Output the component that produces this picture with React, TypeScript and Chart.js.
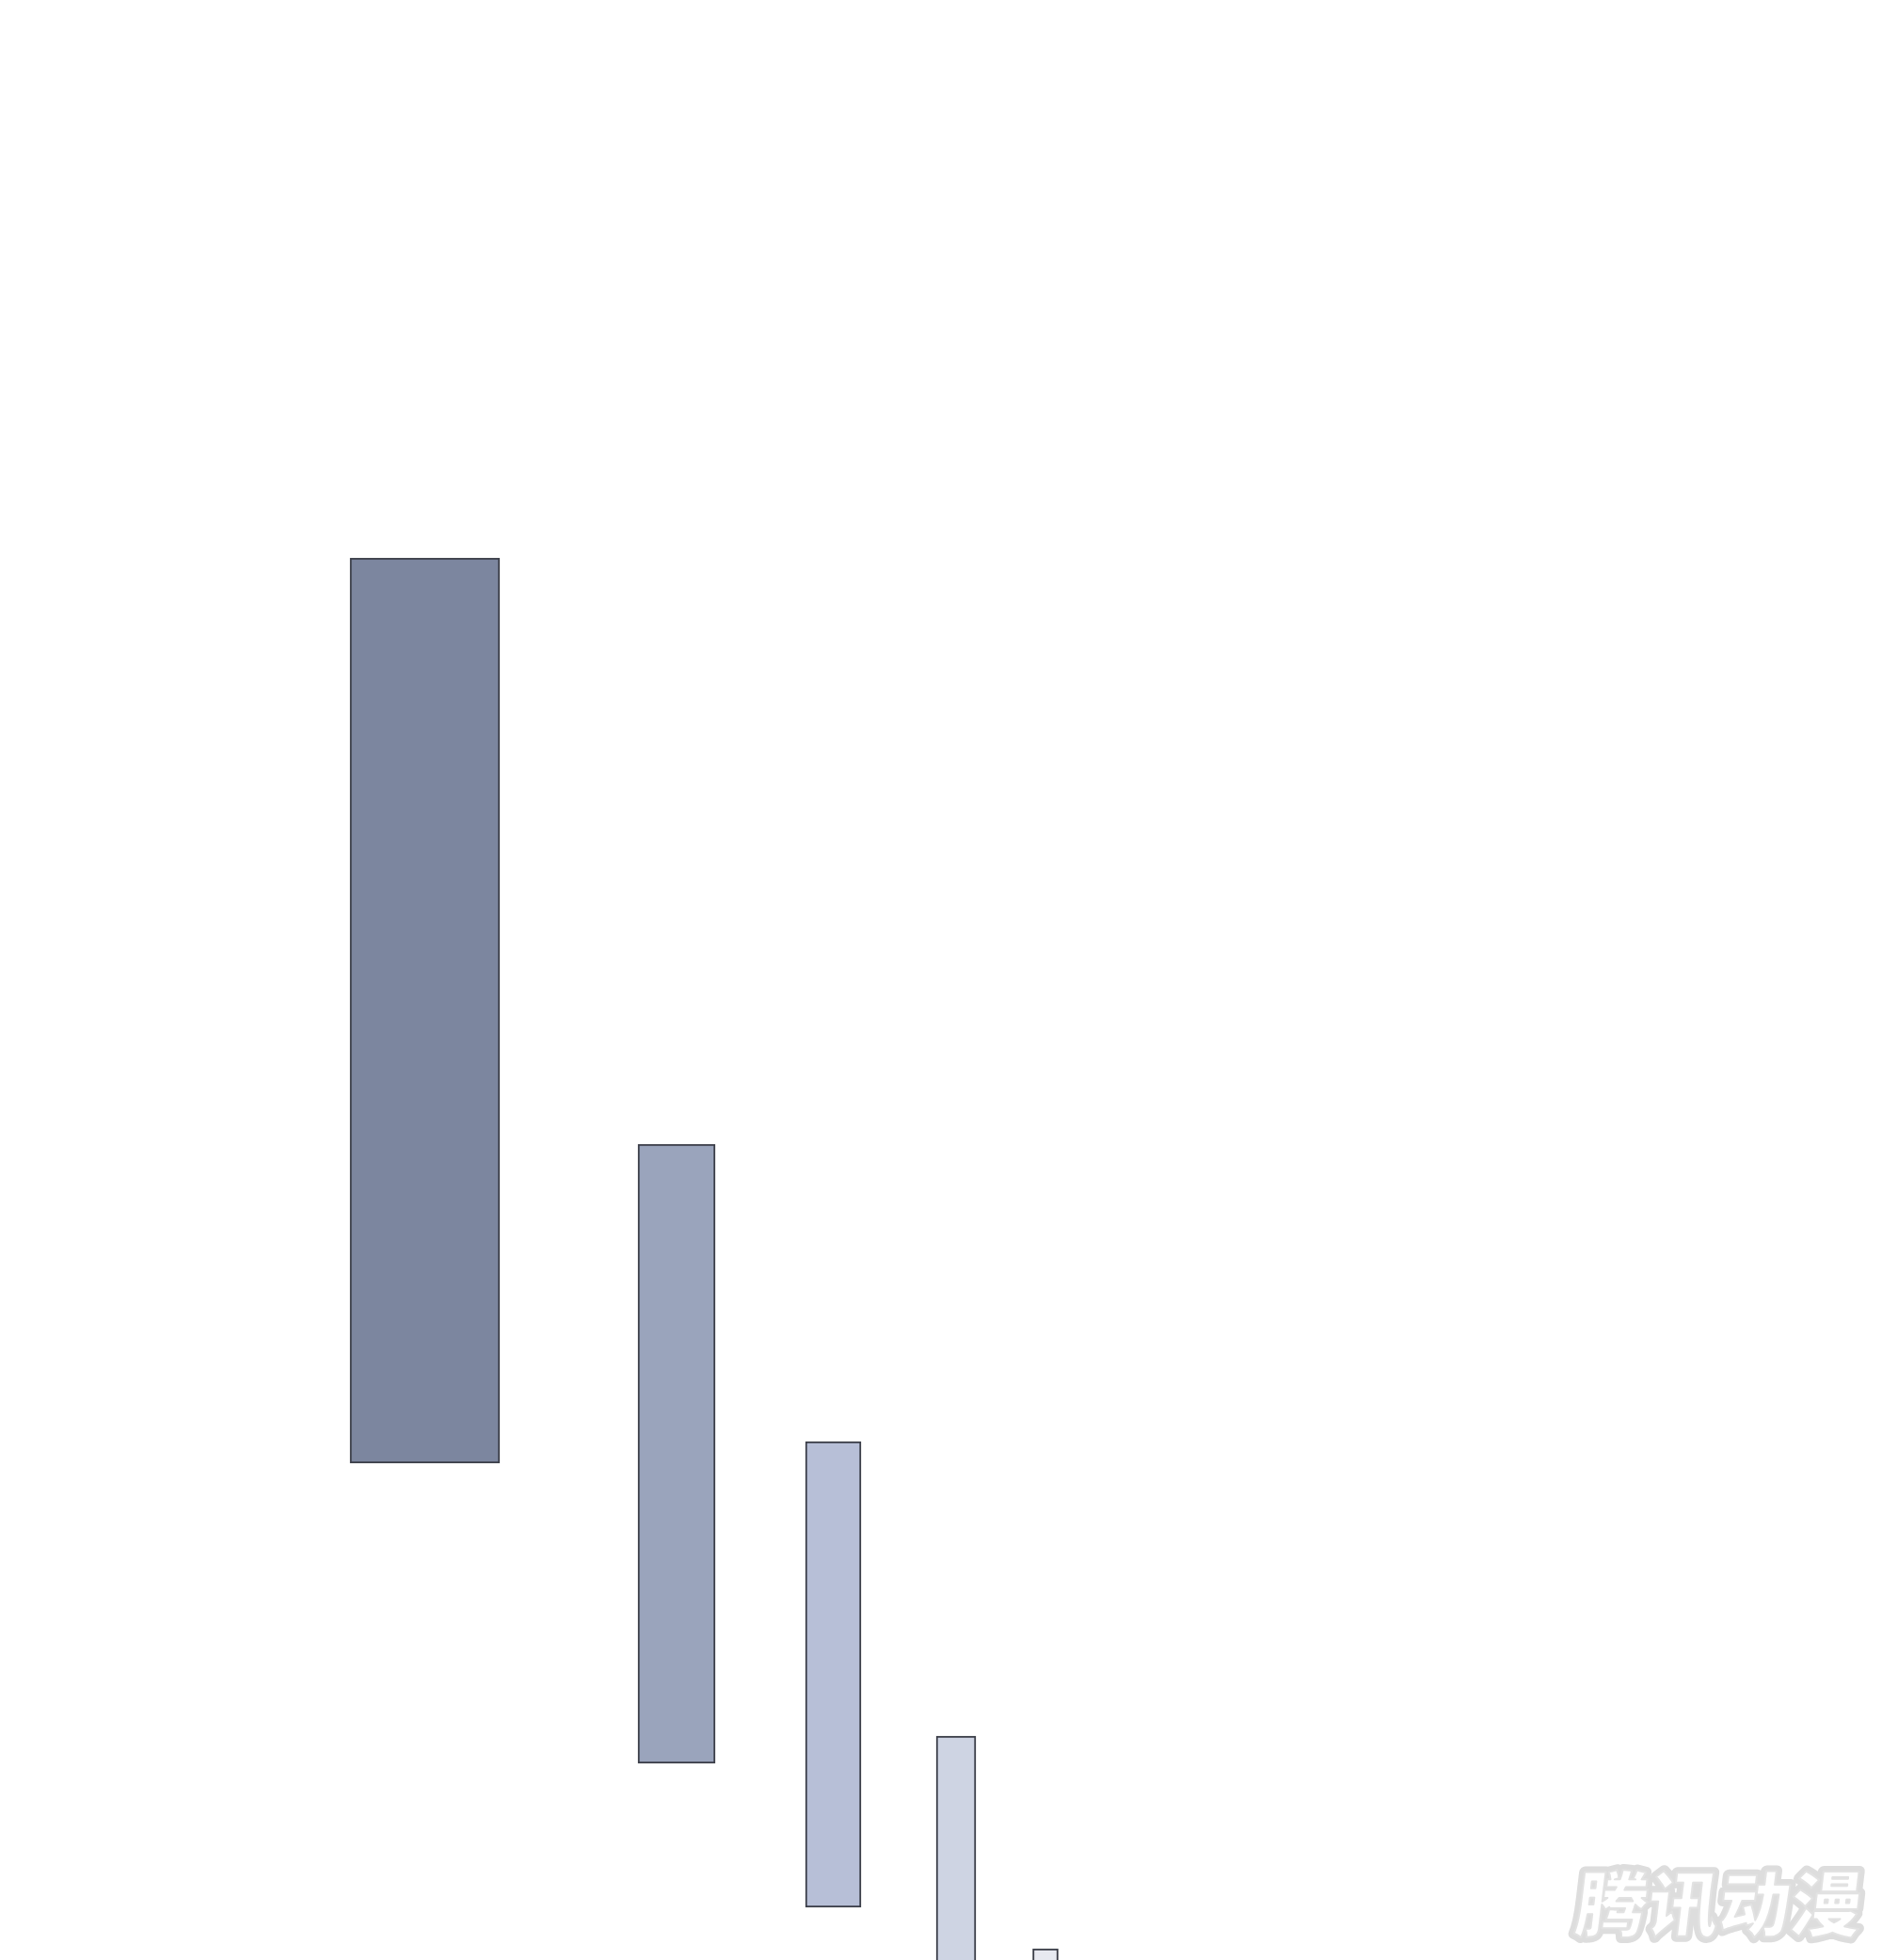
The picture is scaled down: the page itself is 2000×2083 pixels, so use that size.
import React, { useEffect, useRef } from "react";
import { Chart, registerables } from "chart.js";

Chart.register(...registerables);

// Bar data (chart units: x 0..2000 left->right, y 0..2083 top->bottom)
const barCenters = [451.5, 719, 885.5, 1016, 1111];
const barWidths = [159, 82, 59, 42, 27];
const barTops = [593, 1216, 1532, 1845, 2071];
const barBottoms = [1555, 1874, 2027, 2120, 2120];
const barColors = ["#7c869f", "#9aa4bc", "#b7bfd7", "#ced4e3", "#e7e9f0"];
const watermarkText = "腾讯动漫";

const W = 2000;
const H = 2083;

const watermarkPlugin = {
  id: "watermark",
  afterDraw(chart: any) {
    const ctx = chart.ctx as CanvasRenderingContext2D;
    ctx.save();
    ctx.font = '900 76px "Noto Sans CJK SC"';
    ctx.textBaseline = "alphabetic";
    ctx.translate(1672, 2052);
    ctx.transform(1, 0, -0.12, 1, 0, 0);
    ctx.lineJoin = "round";
    ctx.lineWidth = 12;
    ctx.strokeStyle = "#dddddd";
    ctx.strokeText(watermarkText, 0, 0);
    ctx.fillStyle = "#ffffff";
    ctx.fillText(watermarkText, 0, 0);
    ctx.lineWidth = 2;
    ctx.strokeStyle = "#e2e2e2";
    ctx.strokeText(watermarkText, 0, 0);
    ctx.restore();
  },
};

export default function App() {
  const ref = useRef<HTMLCanvasElement | null>(null);

  useEffect(() => {
    document.body.style.margin = "0";
    document.body.style.background = "#ffffff";
    if (!ref.current) return;
    const datasets = barCenters.map((cx, i) => ({
      label: "bar" + (i + 1),
      data: [{ x: cx, y: [barTops[i], barBottoms[i]] }],
      backgroundColor: barColors[i],
      borderColor: "#3a3d47",
      borderWidth: 2,
      borderSkipped: false as const,
      barThickness: barWidths[i],
      grouped: false,
    }));
    const chart = new Chart(ref.current, {
      type: "bar",
      data: { datasets: datasets as any },
      options: {
        animation: false,
        responsive: false,
        maintainAspectRatio: false,
        devicePixelRatio: 1,
        layout: { padding: 0 },
        plugins: { legend: { display: false }, tooltip: { enabled: false } },
        scales: {
          x: { type: "linear", min: 0, max: W, offset: false, display: false },
          y: { type: "linear", min: 0, max: H, reverse: true, display: false },
        },
      },
      plugins: [watermarkPlugin],
    });
    return () => chart.destroy();
  }, []);

  return (
    <div style={{ width: W, height: H, background: "#ffffff" }}>
      <canvas ref={ref} width={W} height={H} style={{ display: "block", width: W, height: H }} />
    </div>
  );
}
